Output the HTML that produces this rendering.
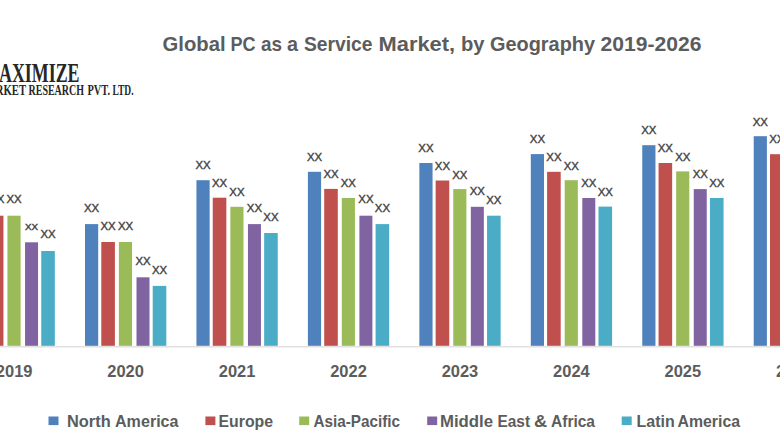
<!DOCTYPE html>
<html><head><meta charset="utf-8"><style>
html,body{margin:0;padding:0;background:#fff;width:780px;height:440px;overflow:hidden}
svg{display:block}
</style></head><body>
<svg width="780" height="440" viewBox="0 0 780 440">
<rect width="780" height="440" fill="#fff"/>
<g>
<rect x="-10.15" y="215.70" width="13.60" height="130.10" fill="#c0504d"/>
<rect x="7.45" y="215.70" width="13.15" height="130.10" fill="#9bbb59"/>
<rect x="25.05" y="242.30" width="13.00" height="103.50" fill="#8064a2"/>
<rect x="41.25" y="251.00" width="13.60" height="94.80" fill="#4bacc6"/>
<rect x="85.00" y="224.10" width="13.20" height="121.70" fill="#4f81bd"/>
<rect x="101.30" y="242.00" width="13.60" height="103.80" fill="#c0504d"/>
<rect x="118.90" y="242.00" width="13.15" height="103.80" fill="#9bbb59"/>
<rect x="136.50" y="277.30" width="13.00" height="68.50" fill="#8064a2"/>
<rect x="152.70" y="285.90" width="13.60" height="59.90" fill="#4bacc6"/>
<rect x="196.45" y="180.20" width="13.20" height="165.60" fill="#4f81bd"/>
<rect x="212.75" y="197.70" width="13.60" height="148.10" fill="#c0504d"/>
<rect x="230.35" y="206.80" width="13.15" height="139.00" fill="#9bbb59"/>
<rect x="247.95" y="224.10" width="13.00" height="121.70" fill="#8064a2"/>
<rect x="264.15" y="233.00" width="13.60" height="112.80" fill="#4bacc6"/>
<rect x="307.90" y="171.80" width="13.20" height="174.00" fill="#4f81bd"/>
<rect x="324.20" y="188.90" width="13.60" height="156.90" fill="#c0504d"/>
<rect x="341.80" y="198.00" width="13.15" height="147.80" fill="#9bbb59"/>
<rect x="359.40" y="215.70" width="13.00" height="130.10" fill="#8064a2"/>
<rect x="375.60" y="224.10" width="13.60" height="121.70" fill="#4bacc6"/>
<rect x="419.35" y="163.00" width="13.20" height="182.80" fill="#4f81bd"/>
<rect x="435.65" y="180.50" width="13.60" height="165.30" fill="#c0504d"/>
<rect x="453.25" y="189.10" width="13.15" height="156.70" fill="#9bbb59"/>
<rect x="470.85" y="206.80" width="13.00" height="139.00" fill="#8064a2"/>
<rect x="487.05" y="215.70" width="13.60" height="130.10" fill="#4bacc6"/>
<rect x="530.80" y="154.10" width="13.20" height="191.70" fill="#4f81bd"/>
<rect x="547.10" y="171.80" width="13.60" height="174.00" fill="#c0504d"/>
<rect x="564.70" y="180.20" width="13.15" height="165.60" fill="#9bbb59"/>
<rect x="582.30" y="198.00" width="13.00" height="147.80" fill="#8064a2"/>
<rect x="598.50" y="206.60" width="13.60" height="139.20" fill="#4bacc6"/>
<rect x="642.25" y="145.20" width="13.20" height="200.60" fill="#4f81bd"/>
<rect x="658.55" y="163.00" width="13.60" height="182.80" fill="#c0504d"/>
<rect x="676.15" y="171.40" width="13.15" height="174.40" fill="#9bbb59"/>
<rect x="693.75" y="189.10" width="13.00" height="156.70" fill="#8064a2"/>
<rect x="709.95" y="198.00" width="13.60" height="147.80" fill="#4bacc6"/>
<rect x="753.70" y="136.20" width="13.20" height="209.60" fill="#4f81bd"/>
<rect x="770.00" y="154.20" width="13.60" height="191.60" fill="#c0504d"/>
</g>
<rect x="0" y="346.2" width="780" height="1.2" fill="#d9d9d9"/>
<g font-family="Liberation Sans, sans-serif" font-size="11.8" fill="#404040" stroke="#404040" stroke-width="0.4">
<text x="-3.35" y="203.30" text-anchor="middle" textLength="15.2" lengthAdjust="spacingAndGlyphs">XX</text>
<text x="14.02" y="203.30" text-anchor="middle" textLength="15.2" lengthAdjust="spacingAndGlyphs">XX</text>
<text x="31.55" y="229.60" text-anchor="middle" font-size="9.2" textLength="13.0" lengthAdjust="spacingAndGlyphs">XX</text>
<text x="48.05" y="238.10" text-anchor="middle" textLength="15.2" lengthAdjust="spacingAndGlyphs">XX</text>
<text x="91.60" y="212.20" text-anchor="middle" textLength="15.2" lengthAdjust="spacingAndGlyphs">XX</text>
<text x="108.10" y="229.50" text-anchor="middle" textLength="15.2" lengthAdjust="spacingAndGlyphs">XX</text>
<text x="125.48" y="229.50" text-anchor="middle" textLength="15.2" lengthAdjust="spacingAndGlyphs">XX</text>
<text x="143.00" y="265.00" text-anchor="middle" textLength="15.2" lengthAdjust="spacingAndGlyphs">XX</text>
<text x="159.50" y="274.30" text-anchor="middle" textLength="15.2" lengthAdjust="spacingAndGlyphs">XX</text>
<text x="203.05" y="169.40" text-anchor="middle" textLength="15.2" lengthAdjust="spacingAndGlyphs">XX</text>
<text x="219.55" y="187.10" text-anchor="middle" textLength="15.2" lengthAdjust="spacingAndGlyphs">XX</text>
<text x="236.92" y="196.10" text-anchor="middle" textLength="15.2" lengthAdjust="spacingAndGlyphs">XX</text>
<text x="254.45" y="211.80" text-anchor="middle" textLength="15.2" lengthAdjust="spacingAndGlyphs">XX</text>
<text x="270.95" y="220.90" text-anchor="middle" textLength="15.2" lengthAdjust="spacingAndGlyphs">XX</text>
<text x="314.50" y="160.70" text-anchor="middle" textLength="15.2" lengthAdjust="spacingAndGlyphs">XX</text>
<text x="331.00" y="178.00" text-anchor="middle" textLength="15.2" lengthAdjust="spacingAndGlyphs">XX</text>
<text x="348.37" y="187.00" text-anchor="middle" textLength="15.2" lengthAdjust="spacingAndGlyphs">XX</text>
<text x="365.90" y="203.10" text-anchor="middle" textLength="15.2" lengthAdjust="spacingAndGlyphs">XX</text>
<text x="382.40" y="212.10" text-anchor="middle" textLength="15.2" lengthAdjust="spacingAndGlyphs">XX</text>
<text x="425.95" y="151.80" text-anchor="middle" textLength="15.2" lengthAdjust="spacingAndGlyphs">XX</text>
<text x="442.45" y="169.50" text-anchor="middle" textLength="15.2" lengthAdjust="spacingAndGlyphs">XX</text>
<text x="459.82" y="178.60" text-anchor="middle" textLength="15.2" lengthAdjust="spacingAndGlyphs">XX</text>
<text x="477.35" y="195.40" text-anchor="middle" textLength="15.2" lengthAdjust="spacingAndGlyphs">XX</text>
<text x="493.85" y="203.70" text-anchor="middle" textLength="15.2" lengthAdjust="spacingAndGlyphs">XX</text>
<text x="537.40" y="143.20" text-anchor="middle" textLength="15.2" lengthAdjust="spacingAndGlyphs">XX</text>
<text x="553.90" y="160.80" text-anchor="middle" textLength="15.2" lengthAdjust="spacingAndGlyphs">XX</text>
<text x="571.27" y="169.60" text-anchor="middle" textLength="15.2" lengthAdjust="spacingAndGlyphs">XX</text>
<text x="588.80" y="186.90" text-anchor="middle" textLength="15.2" lengthAdjust="spacingAndGlyphs">XX</text>
<text x="605.30" y="196.30" text-anchor="middle" textLength="15.2" lengthAdjust="spacingAndGlyphs">XX</text>
<text x="648.85" y="134.20" text-anchor="middle" textLength="15.2" lengthAdjust="spacingAndGlyphs">XX</text>
<text x="665.35" y="151.80" text-anchor="middle" textLength="15.2" lengthAdjust="spacingAndGlyphs">XX</text>
<text x="682.73" y="160.60" text-anchor="middle" textLength="15.2" lengthAdjust="spacingAndGlyphs">XX</text>
<text x="700.25" y="177.90" text-anchor="middle" textLength="15.2" lengthAdjust="spacingAndGlyphs">XX</text>
<text x="716.75" y="186.90" text-anchor="middle" textLength="15.2" lengthAdjust="spacingAndGlyphs">XX</text>
<text x="760.30" y="125.50" text-anchor="middle" textLength="15.2" lengthAdjust="spacingAndGlyphs">XX</text>
<text x="776.80" y="143.30" text-anchor="middle" textLength="15.2" lengthAdjust="spacingAndGlyphs">XX</text>
</g>
<g font-family="Liberation Sans, sans-serif" font-weight="bold" font-size="16.2" fill="#5c5c5c">
<text x="14.15" y="376.6" text-anchor="middle" textLength="36.6" lengthAdjust="spacingAndGlyphs">2019</text>
<text x="125.60" y="376.6" text-anchor="middle" textLength="36.6" lengthAdjust="spacingAndGlyphs">2020</text>
<text x="237.05" y="376.6" text-anchor="middle" textLength="36.6" lengthAdjust="spacingAndGlyphs">2021</text>
<text x="348.50" y="376.6" text-anchor="middle" textLength="36.6" lengthAdjust="spacingAndGlyphs">2022</text>
<text x="459.95" y="376.6" text-anchor="middle" textLength="36.6" lengthAdjust="spacingAndGlyphs">2023</text>
<text x="571.40" y="376.6" text-anchor="middle" textLength="36.6" lengthAdjust="spacingAndGlyphs">2024</text>
<text x="682.85" y="376.6" text-anchor="middle" textLength="36.6" lengthAdjust="spacingAndGlyphs">2025</text>
<text x="794.30" y="376.6" text-anchor="middle" textLength="36.6" lengthAdjust="spacingAndGlyphs">2026</text>
</g>
<rect x="48.5" y="416.5" width="10" height="8.6" fill="#4f81bd"/>
<rect x="205.4" y="416.5" width="10" height="8.6" fill="#c0504d"/>
<rect x="299.2" y="416.5" width="10" height="8.6" fill="#9bbb59"/>
<rect x="427.2" y="416.5" width="10" height="8.6" fill="#8064a2"/>
<rect x="621.7" y="416.5" width="10" height="8.6" fill="#4bacc6"/>
<text x="162.50" y="50.8" font-family="Liberation Sans, sans-serif" font-weight="bold" font-size="19.8" fill="#5c5c5c" textLength="63.07" lengthAdjust="spacingAndGlyphs">Global</text>
<text x="230.50" y="50.8" font-family="Liberation Sans, sans-serif" font-weight="bold" font-size="19.8" fill="#5c5c5c" textLength="25.12" lengthAdjust="spacingAndGlyphs">PC</text>
<text x="261.00" y="50.8" font-family="Liberation Sans, sans-serif" font-weight="bold" font-size="19.8" fill="#5c5c5c" textLength="21.05" lengthAdjust="spacingAndGlyphs">as</text>
<text x="287.00" y="50.8" font-family="Liberation Sans, sans-serif" font-weight="bold" font-size="19.8" fill="#5c5c5c" textLength="11.04" lengthAdjust="spacingAndGlyphs">a</text>
<text x="304.00" y="50.8" font-family="Liberation Sans, sans-serif" font-weight="bold" font-size="19.8" fill="#5c5c5c" textLength="68.51" lengthAdjust="spacingAndGlyphs">Service</text>
<text x="378.50" y="50.8" font-family="Liberation Sans, sans-serif" font-weight="bold" font-size="19.8" fill="#5c5c5c" textLength="76.58" lengthAdjust="spacingAndGlyphs">Market,</text>
<text x="461.00" y="50.8" font-family="Liberation Sans, sans-serif" font-weight="bold" font-size="19.8" fill="#5c5c5c" textLength="23.58" lengthAdjust="spacingAndGlyphs">by</text>
<text x="490.00" y="50.8" font-family="Liberation Sans, sans-serif" font-weight="bold" font-size="19.8" fill="#5c5c5c" textLength="105.01" lengthAdjust="spacingAndGlyphs">Geography</text>
<text x="600.50" y="50.8" font-family="Liberation Sans, sans-serif" font-weight="bold" font-size="19.8" fill="#5c5c5c" textLength="101.03" lengthAdjust="spacingAndGlyphs">2019-2026</text>
<text x="67.00" y="426.6" font-family="Liberation Sans, sans-serif" font-weight="bold" font-size="15.7" fill="#5c5c5c" textLength="43.66" lengthAdjust="spacingAndGlyphs">North</text>
<text x="115.00" y="426.6" font-family="Liberation Sans, sans-serif" font-weight="bold" font-size="15.7" fill="#5c5c5c" textLength="63.52" lengthAdjust="spacingAndGlyphs">America</text>
<text x="218.50" y="426.6" font-family="Liberation Sans, sans-serif" font-weight="bold" font-size="15.7" fill="#5c5c5c" textLength="54.59" lengthAdjust="spacingAndGlyphs">Europe</text>
<text x="313.50" y="426.6" font-family="Liberation Sans, sans-serif" font-weight="bold" font-size="15.7" fill="#5c5c5c" textLength="86.56" lengthAdjust="spacingAndGlyphs">Asia-Pacific</text>
<text x="440.00" y="426.6" font-family="Liberation Sans, sans-serif" font-weight="bold" font-size="15.7" fill="#5c5c5c" textLength="53.09" lengthAdjust="spacingAndGlyphs">Middle</text>
<text x="497.50" y="426.6" font-family="Liberation Sans, sans-serif" font-weight="bold" font-size="15.7" fill="#5c5c5c" textLength="32.57" lengthAdjust="spacingAndGlyphs">East</text>
<text x="534.00" y="426.6" font-family="Liberation Sans, sans-serif" font-weight="bold" font-size="15.7" fill="#5c5c5c" textLength="13.24" lengthAdjust="spacingAndGlyphs">&amp;</text>
<text x="551.00" y="426.6" font-family="Liberation Sans, sans-serif" font-weight="bold" font-size="15.7" fill="#5c5c5c" textLength="44.01" lengthAdjust="spacingAndGlyphs">Africa</text>
<text x="636.50" y="426.6" font-family="Liberation Sans, sans-serif" font-weight="bold" font-size="15.7" fill="#5c5c5c" textLength="38.14" lengthAdjust="spacingAndGlyphs">Latin</text>
<text x="677.50" y="426.6" font-family="Liberation Sans, sans-serif" font-weight="bold" font-size="15.7" fill="#5c5c5c" textLength="62.51" lengthAdjust="spacingAndGlyphs">America</text>
<text x="-17.89" y="81.5" font-family="Liberation Serif, serif" font-weight="bold" font-size="27.5" fill="#262626" textLength="97.40" lengthAdjust="spacingAndGlyphs">MAXIMIZE</text>
<text x="-21.97" y="94.8" font-family="Liberation Serif, serif" font-weight="bold" font-size="14.2" fill="#262626" textLength="47.99" lengthAdjust="spacingAndGlyphs">MARKET</text>
<text x="28.50" y="94.8" font-family="Liberation Serif, serif" font-weight="bold" font-size="14.2" fill="#262626" textLength="55.51" lengthAdjust="spacingAndGlyphs">RESEARCH</text>
<text x="87.50" y="94.8" font-family="Liberation Serif, serif" font-weight="bold" font-size="14.2" fill="#262626" textLength="22.55" lengthAdjust="spacingAndGlyphs">PVT.</text>
<text x="112.50" y="94.8" font-family="Liberation Serif, serif" font-weight="bold" font-size="14.2" fill="#262626" textLength="21.02" lengthAdjust="spacingAndGlyphs">LTD.</text>
</svg>
</body></html>
